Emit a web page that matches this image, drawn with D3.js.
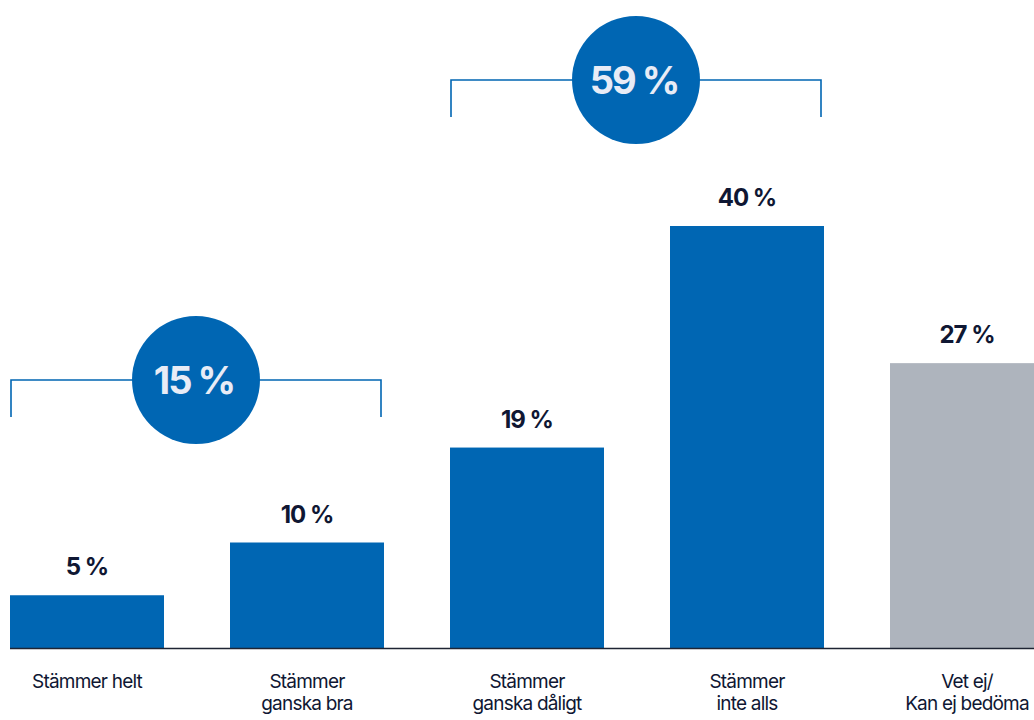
<!DOCTYPE html>
<html>
<head>
<meta charset="utf-8">
<script src="https://cdn.jsdelivr.net/npm/d3@7"></script>
<style>
  html, body { margin: 0; padding: 0; background: #ffffff; }
  svg { display: block; }
  text { font-family: Inter, "Noto Sans", sans-serif; }
</style>
</head>
<body>
<svg id="chart" width="1034" height="720"></svg>
<script>
// Survey answers, share of respondents (%)
const categories = ["Stämmer helt", "Stämmer\nganska bra", "Stämmer\nganska dåligt", "Stämmer\ninte alls", "Vet ej/\nKan ej bedöma"];
const values = [5, 10, 19, 40, 27];
const answered = [true, true, true, true, false];

// Grouped totals shown in the circles
const groupLabels = ["15 %", "59 %"];
const groupTotals = [15, 59];
const groupMembers = [[0, 1], [2, 3]];

const BLUE = "#0066b3";
const GREY = "#aeb4bd";
const INK = "#0f1733";

const svg = d3.select("#chart");
const baseY = 648;

const x = d3.scaleBand()
  .domain(d3.range(categories.length))
  .range([10, 1044])
  .paddingInner(0.3)
  .paddingOuter(0);

const y = d3.scaleLinear().domain([0, 40]).range([baseY, 226]);

// Bars
svg.append("g").selectAll("rect")
  .data(values)
  .join("rect")
  .attr("x", (d, i) => x(i))
  .attr("y", d => y(d))
  .attr("width", x.bandwidth())
  .attr("height", d => baseY - y(d))
  .attr("fill", (d, i) => answered[i] ? BLUE : GREY);

// Baseline
svg.append("line")
  .attr("x1", 10).attr("x2", 1034)
  .attr("y1", baseY + 0.5).attr("y2", baseY + 0.5)
  .attr("stroke", "#1e2433").attr("stroke-width", 1.4);

// Value labels
svg.append("g").selectAll("text")
  .data(values)
  .join("text")
  .attr("x", (d, i) => Math.min(x(i) + x.bandwidth() / 2, 971))
  .attr("y", d => y(d) - 20)
  .attr("text-anchor", "middle")
  .attr("font-size", 24)
  .attr("font-weight", 700)
  .attr("letter-spacing", -1)
  .attr("fill", INK)
  .text(d => d + " %");

// Category labels, one text element per line
const catGroup = svg.append("g")
  .attr("font-size", 19)
  .attr("letter-spacing", -0.8)
  .attr("fill", INK)
  .attr("text-anchor", "middle");
categories.forEach((d, i) => {
  const cx = Math.min(x(i) + x.bandwidth() / 2, 967);
  d.split("\n").forEach((ln, k) => {
    catGroup.append("text")
      .attr("x", cx)
      .attr("y", 688 + k * 22)
      .text(ln);
  });
});

// Group brackets with total circles
const bracketY = [380, 80];
const r = 64;
groupMembers.forEach((m, gi) => {
  const x0 = x(m[0]) + 1;
  const x1 = x(m[1]) + x.bandwidth() - 3;
  const by = bracketY[gi];
  const g = svg.append("g");
  g.append("path")
    .attr("d", `M${x0},${by + 37}V${by}H${x1}V${by + 37}`)
    .attr("fill", "none")
    .attr("stroke", BLUE)
    .attr("stroke-width", 1.6);
  const cx = (x0 + x1) / 2;
  g.append("circle")
    .attr("cx", cx).attr("cy", by).attr("r", r)
    .attr("fill", BLUE);
  g.append("text")
    .attr("x", cx - 2).attr("y", by + 14)
    .attr("text-anchor", "middle")
    .attr("font-size", 38)
    .attr("font-weight", 700)
    .attr("letter-spacing", -2)
    .attr("fill", "#e8ecf6")
    .text(groupLabels[gi]);
});
</script>
</body>
</html>
